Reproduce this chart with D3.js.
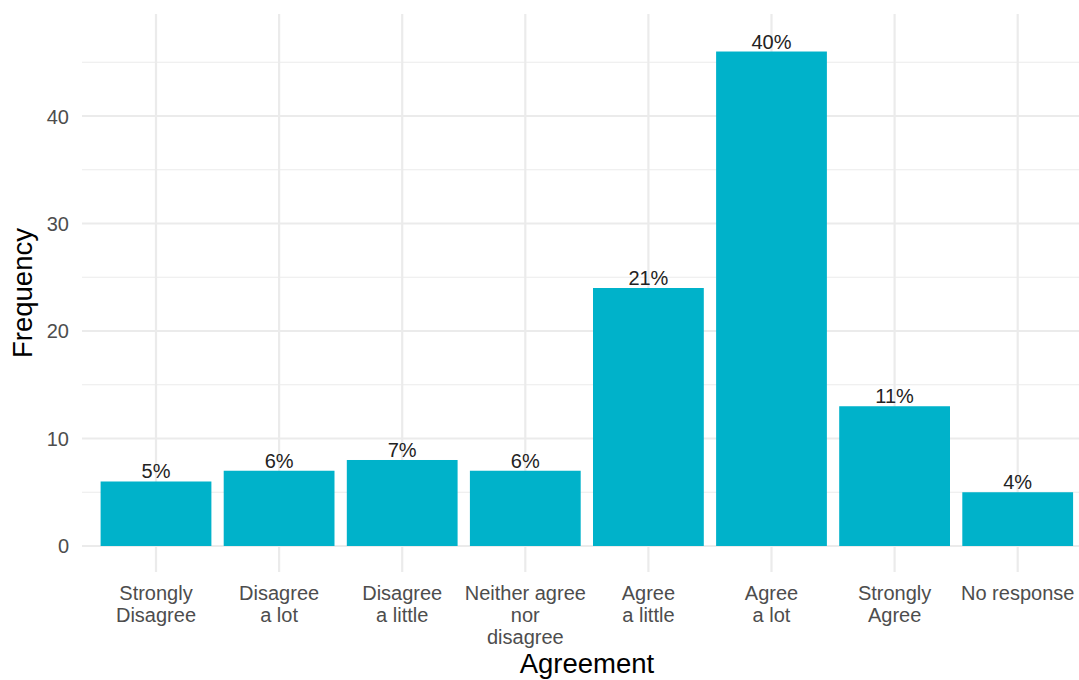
<!DOCTYPE html>
<html><head><meta charset="utf-8">
<script src="https://cdn.jsdelivr.net/npm/d3@7"></script>
<style>body{margin:0;background:#fff}svg{display:block}text{font-family:"Liberation Sans",Arial,Helvetica,sans-serif}</style>
</head><body>
<svg id="c" width="1079" height="680"></svg>
<script>
const categories = ["Strongly\nDisagree","Disagree\na lot","Disagree\na little","Neither agree\nnor\ndisagree","Agree\na little","Agree\na lot","Strongly\nAgree","No response"];
const frequencies = [6,7,8,7,24,46,13,5];
const percentLabels = ["5%","6%","7%","6%","21%","40%","11%","4%"];
const yMajorTicks = [0,10,20,30,40];
const yMinorTicks = [5,15,25,35,45];

const svg = d3.select("#c");
const panel = {left:82, right:1079, top:14, bottom:572};
const x = d3.scaleBand().domain(categories).range([94.45, 1079.25]).paddingInner(0.1).paddingOuter(0.05);
const y = d3.scaleLinear().domain([-2.42, 49.49]).range([panel.bottom, panel.top]);

const g = svg.append("g");
// minor grid
g.selectAll(".minor").data(yMinorTicks).enter().append("line")
  .attr("x1",panel.left).attr("x2",panel.right).attr("y1",d=>y(d)).attr("y2",d=>y(d))
  .attr("stroke","#ebebeb").attr("stroke-width",1.2);
// major grid
g.selectAll(".major").data(yMajorTicks).enter().append("line")
  .attr("x1",panel.left).attr("x2",panel.right).attr("y1",d=>y(d)).attr("y2",d=>y(d))
  .attr("stroke","#ebebeb").attr("stroke-width",2.2);
g.selectAll(".vgrid").data(categories).enter().append("line")
  .attr("x1",d=>x(d)+x.bandwidth()/2).attr("x2",d=>x(d)+x.bandwidth()/2)
  .attr("y1",panel.top).attr("y2",panel.bottom)
  .attr("stroke","#ebebeb").attr("stroke-width",2.2);

// bars
g.selectAll(".bar").data(frequencies).enter().append("rect")
  .attr("x",(d,i)=>x(categories[i])).attr("width",x.bandwidth())
  .attr("y",d=>y(d)).attr("height",d=>y(0)-y(d))
  .attr("fill","#00b2ca");

// bar labels
g.selectAll(".lbl").data(frequencies).enter().append("text")
  .attr("x",(d,i)=>x(categories[i])+x.bandwidth()/2).attr("y",d=>y(d)-3)
  .attr("text-anchor","middle").attr("font-size",20).attr("fill","#222")
  .text((d,i)=>percentLabels[i]);

// y axis labels
const yAxis = d3.axisLeft(y).tickValues(yMajorTicks).tickSize(0).tickPadding(0);
const ya = svg.append("g").attr("transform",`translate(${panel.left-13},0)`).call(yAxis);
ya.select(".domain").remove();
ya.selectAll("text").attr("font-size",20).attr("fill","#4d4d4d").attr("font-family","Liberation Sans, Arial, sans-serif").attr("dy","0.35em");

// x axis labels
const xAxis = d3.axisBottom(x).tickSize(0).tickFormat("");
const xa = svg.append("g").attr("transform",`translate(0,${panel.bottom})`).call(xAxis);
xa.select(".domain").remove();
xa.selectAll(".tick").each(function(d){
  const lines = d.split("\n");
  const t = d3.select(this).append("text").attr("text-anchor","middle").attr("font-size",20).attr("fill","#4d4d4d");
  lines.forEach((l,i)=>t.append("tspan").attr("x",0).attr("y",28+i*22).text(l));
});

// axis titles
svg.append("text").attr("x",(panel.left+1092)/2).attr("y",673).attr("text-anchor","middle")
  .attr("font-size",27.5).attr("fill","#000").text("Agreement");
svg.append("text").attr("transform",`translate(32,${(panel.top+panel.bottom)/2}) rotate(-90)`)
  .attr("text-anchor","middle").attr("font-size",27.5).attr("fill","#000").text("Frequency");
</script>
</body></html>
